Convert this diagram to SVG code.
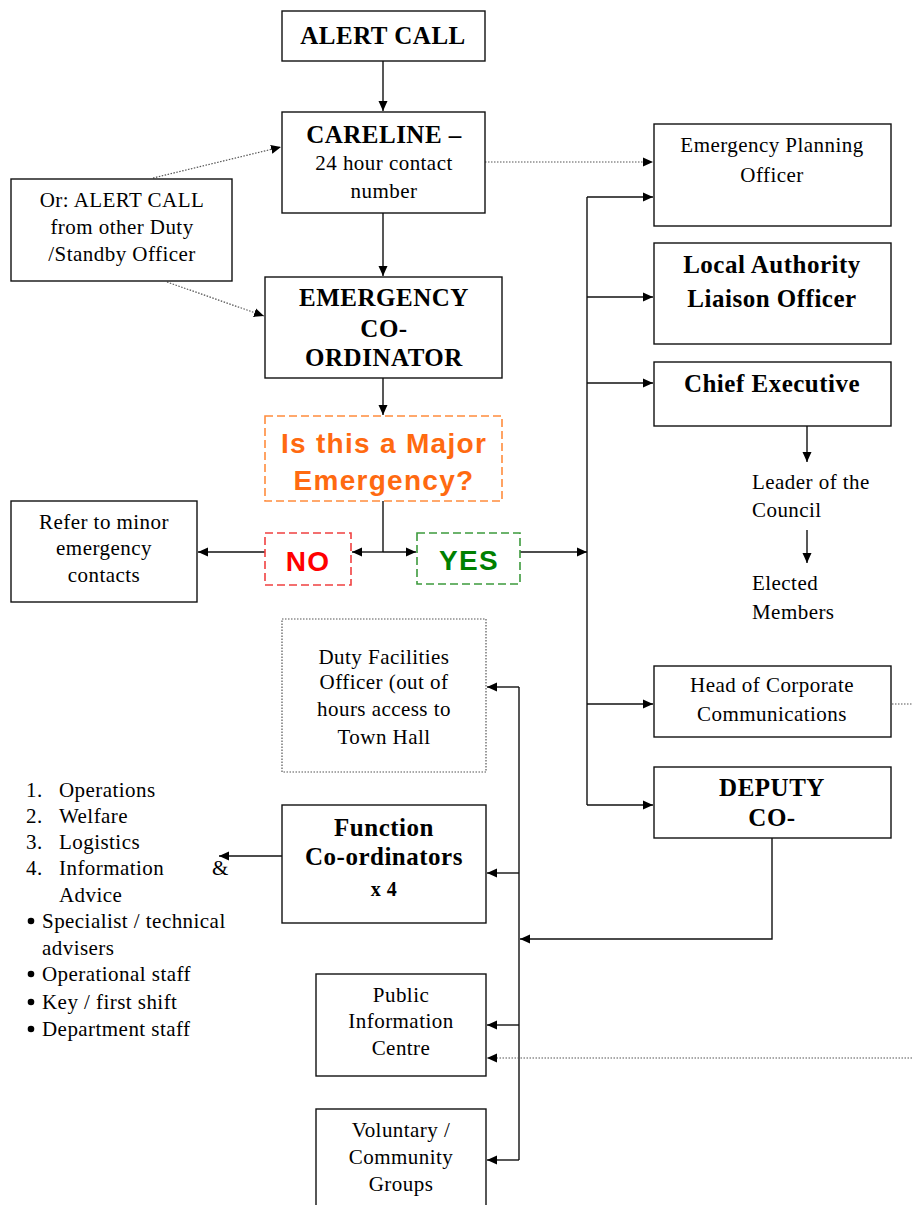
<svg xmlns="http://www.w3.org/2000/svg" width="912" height="1205" viewBox="0 0 912 1205">
<style>
.box{fill:#fff;stroke:#111;stroke-width:1.4}
.dotbox{fill:#fff;stroke:#555;stroke-width:1.2;stroke-dasharray:1.5 1.5}
.t{font-family:"Liberation Serif","Times New Roman",serif;font-size:21px;letter-spacing:0.45px;fill:#000}
.c{text-anchor:middle}
.b{font-family:"Liberation Serif","Times New Roman",serif;font-size:25px;font-weight:bold;letter-spacing:0.5px;fill:#000;text-anchor:middle}
.a{font-family:"Liberation Sans",Arial,sans-serif;font-size:28px;font-weight:bold;letter-spacing:1.3px;text-anchor:middle}
.ln{fill:none;stroke:#111;stroke-width:1.4}
.dl{fill:none;stroke:#555;stroke-width:1.2;stroke-dasharray:1.5 1.5}
</style>
<defs>
<marker id="ah" markerUnits="userSpaceOnUse" markerWidth="11" markerHeight="10" refX="10" refY="5" orient="auto"><path d="M0,0.5 L10,5 L0,9.5 z" fill="#000"/></marker>
</defs>

<g id="connectors">
<path class="ln" d="M383,61 V111" marker-end="url(#ah)"/>
<path class="ln" d="M383,213 V276" marker-end="url(#ah)"/>
<path class="ln" d="M383,378 V415" marker-end="url(#ah)"/>
<path class="dl" d="M153,178 L281,147" marker-end="url(#ah)"/>
<path class="dl" d="M167,282 L264,316" marker-end="url(#ah)"/>
<path class="dl" d="M485,162 H653" marker-end="url(#ah)"/>
<path class="ln" d="M383,501 V552"/>
<path class="ln" d="M383,552 H352" marker-end="url(#ah)"/>
<path class="ln" d="M383,552 H416" marker-end="url(#ah)"/>
<path class="ln" d="M265,552 H198" marker-end="url(#ah)"/>
<path class="ln" d="M520,552 H587" marker-end="url(#ah)"/>
<path class="ln" d="M587,197 V805"/>
<path class="ln" d="M587,197 H653" marker-end="url(#ah)"/>
<path class="ln" d="M587,297 H653" marker-end="url(#ah)"/>
<path class="ln" d="M587,383 H653" marker-end="url(#ah)"/>
<path class="ln" d="M587,704 H653" marker-end="url(#ah)"/>
<path class="ln" d="M587,805 H653" marker-end="url(#ah)"/>
<path class="ln" d="M807,426 V462" marker-end="url(#ah)"/>
<path class="ln" d="M807,530 V563" marker-end="url(#ah)"/>
<path class="dl" d="M892,704 H912"/>
<path class="ln" d="M772,838 V939 H520" marker-end="url(#ah)"/>
<path class="ln" d="M519,687 V1160"/>
<path class="ln" d="M519,687 H487" marker-end="url(#ah)"/>
<path class="ln" d="M519,873 H487" marker-end="url(#ah)"/>
<path class="ln" d="M519,1025 H487" marker-end="url(#ah)"/>
<path class="ln" d="M519,1160 H487" marker-end="url(#ah)"/>
<path class="ln" d="M282,856 H219" marker-end="url(#ah)"/>
<path class="dl" d="M912,1058 H487" marker-end="url(#ah)"/>
</g>

<g id="alert-call">
<rect class="box" x="282" y="11" width="203" height="50"/>
<text class="b" x="383" y="44">ALERT CALL</text>
</g>

<g id="careline">
<rect class="box" x="282" y="112" width="203" height="101"/>
<text class="b" x="384" y="143">CARELINE –</text>
<text class="t c" x="384" y="170">24 hour contact</text>
<text class="t c" x="384" y="198">number</text>
</g>

<g id="or-alert">
<rect class="box" x="11" y="179" width="221" height="102"/>
<text class="t c" x="122" y="207">Or: ALERT CALL</text>
<text class="t c" x="122" y="234">from other Duty</text>
<text class="t c" x="122" y="261">/Standby Officer</text>
</g>

<g id="emergency-coordinator">
<rect class="box" x="265" y="277" width="237" height="101"/>
<text class="b" x="384" y="306">EMERGENCY</text>
<text class="b" x="384" y="337">CO-</text>
<text class="b" x="384" y="366">ORDINATOR</text>
</g>

<g id="major-question">
<rect x="265" y="416" width="237" height="85" fill="#fff" stroke="#FF8C3C" stroke-width="1.6" stroke-dasharray="8 4"/>
<text class="a" x="384" y="453" fill="#FF6A10">Is this a Major</text>
<text class="a" x="384" y="490" fill="#FF6A10">Emergency?</text>
</g>

<g id="no">
<rect x="265" y="533" width="86" height="52" fill="#fff" stroke="#F04040" stroke-width="1.6" stroke-dasharray="8 4"/>
<text class="a" x="308" y="571" fill="#FF0000">NO</text>
</g>

<g id="yes">
<rect x="417" y="533" width="103" height="51" fill="#fff" stroke="#3C9A3C" stroke-width="1.6" stroke-dasharray="8 4"/>
<text class="a" x="469" y="570" fill="#008000">YES</text>
</g>

<g id="refer-minor">
<rect class="box" x="11" y="501" width="186" height="101"/>
<text class="t c" x="104" y="529">Refer to minor</text>
<text class="t c" x="104" y="555">emergency</text>
<text class="t c" x="104" y="582">contacts</text>
</g>

<g id="emergency-planning">
<rect class="box" x="654" y="124" width="237" height="102"/>
<text class="t c" x="772" y="152">Emergency Planning</text>
<text class="t c" x="772" y="182">Officer</text>
</g>

<g id="local-authority">
<rect class="box" x="654" y="243" width="237" height="101"/>
<text class="b" x="772" y="273">Local Authority</text>
<text class="b" x="772" y="307">Liaison Officer</text>
</g>

<g id="chief-executive">
<rect class="box" x="654" y="362" width="237" height="64"/>
<text class="b" x="772" y="392">Chief Executive</text>
</g>

<g id="leader">
<text class="t" x="752" y="489">Leader of the</text>
<text class="t" x="752" y="517">Council</text>
</g>

<g id="elected">
<text class="t" x="752" y="590">Elected</text>
<text class="t" x="752" y="619">Members</text>
</g>

<g id="head-corporate">
<rect class="box" x="654" y="666" width="237" height="71"/>
<text class="t c" x="772" y="692">Head of Corporate</text>
<text class="t c" x="772" y="721">Communications</text>
</g>

<g id="deputy">
<rect class="box" x="654" y="767" width="237" height="71"/>
<text class="b" x="772" y="796">DEPUTY</text>
<text class="b" x="772" y="826">CO-</text>
</g>

<g id="duty-facilities">
<rect class="dotbox" x="282" y="619" width="204" height="153"/>
<text class="t c" x="384" y="664">Duty Facilities</text>
<text class="t c" x="384" y="689">Officer (out of</text>
<text class="t c" x="384" y="716">hours access to</text>
<text class="t c" x="384" y="744">Town Hall</text>
</g>

<g id="function-coordinators">
<rect class="box" x="282" y="805" width="204" height="118"/>
<text class="b" x="384" y="836">Function</text>
<text class="b" x="384" y="865">Co-ordinators</text>
<text class="b" x="384" y="896" style="font-size:20px">x 4</text>
</g>

<g id="function-list">
<text class="t" x="26" y="797">1.</text><text class="t" x="59" y="797">Operations</text>
<text class="t" x="26" y="823">2.</text><text class="t" x="59" y="823">Welfare</text>
<text class="t" x="26" y="849">3.</text><text class="t" x="59" y="849">Logistics</text>
<text class="t" x="26" y="875">4.</text><text class="t" x="59" y="875">Information</text><text class="t" x="212" y="875">&amp;</text>
<text class="t" x="59" y="902">Advice</text>
<circle cx="31" cy="921" r="3.3" fill="#000"/><text class="t" x="42" y="928">Specialist / technical</text>
<text class="t" x="42" y="955">advisers</text>
<circle cx="31" cy="974" r="3.3" fill="#000"/><text class="t" x="42" y="981">Operational staff</text>
<circle cx="31" cy="1002" r="3.3" fill="#000"/><text class="t" x="42" y="1009">Key / first shift</text>
<circle cx="31" cy="1029" r="3.3" fill="#000"/><text class="t" x="42" y="1036">Department staff</text>
</g>

<g id="public-information">
<rect class="box" x="316" y="974" width="170" height="102"/>
<text class="t c" x="401" y="1002">Public</text>
<text class="t c" x="401" y="1028">Information</text>
<text class="t c" x="401" y="1055">Centre</text>
</g>

<g id="voluntary">
<rect class="box" x="316" y="1109" width="170" height="110"/>
<text class="t c" x="401" y="1137">Voluntary /</text>
<text class="t c" x="401" y="1164">Community</text>
<text class="t c" x="401" y="1191">Groups</text>
</g>
</svg>
